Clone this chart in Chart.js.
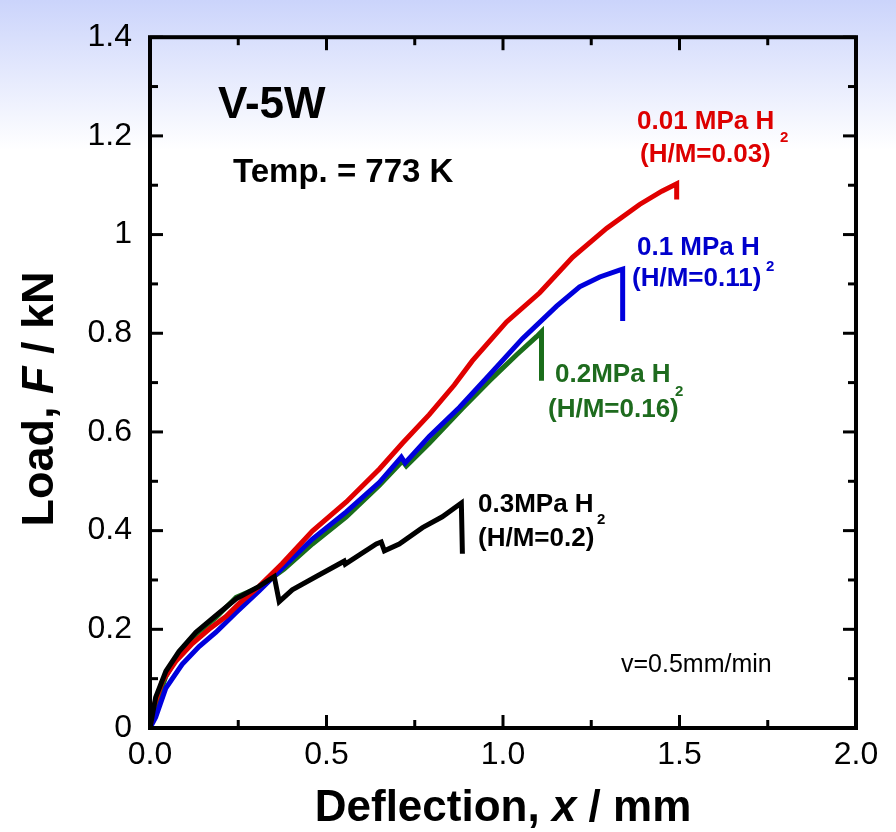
<!DOCTYPE html>
<html>
<head>
<meta charset="utf-8">
<script src="https://cdn.jsdelivr.net/npm/chart.js@4.4.0/dist/chart.umd.min.js"></script>
<style>
  html, body { margin: 0; padding: 0; background: #fff; }
  canvas { display: block; }
</style>
</head>
<body>
<canvas id="myChart" width="896" height="832"></canvas>
<script>
// axis ticks
const xTickVals = [0, 0.5, 1.0, 1.5, 2.0];
const xTickLabels = ['0.0', '0.5', '1.0', '1.5', '2.0'];
const xMinor = [0.25, 0.75, 1.25, 1.75];
const yTickVals = [0, 0.2, 0.4, 0.6, 0.8, 1.0, 1.2, 1.4];
const yTickLabels = ['0', '0.2', '0.4', '0.6', '0.8', '1', '1.2', '1.4'];
const yMinor = [0.1, 0.3, 0.5, 0.7, 0.9, 1.1, 1.3];

// 0.01 MPa H2 (H/M=0.03)
const h001X = [0, 0.007, 0.035, 0.073, 0.12, 0.167, 0.215, 0.252, 0.309, 0.374, 0.46, 0.556, 0.65, 0.715, 0.791, 0.862, 0.913, 1.01, 1.104, 1.197, 1.294, 1.387, 1.45, 1.492, 1.492];
const h001Y = [0, 0.036, 0.095, 0.135, 0.171, 0.2, 0.226, 0.252, 0.287, 0.333, 0.399, 0.458, 0.525, 0.577, 0.635, 0.695, 0.744, 0.823, 0.882, 0.954, 1.013, 1.061, 1.088, 1.103, 1.071];

// 0.1 MPa H2 (H/M=0.11)
const h01X = [0, 0.016, 0.045, 0.091, 0.139, 0.187, 0.244, 0.309, 0.38, 0.46, 0.556, 0.65, 0.712, 0.723, 0.791, 0.877, 0.962, 1.055, 1.152, 1.217, 1.274, 1.33, 1.339, 1.339];
const h01Y = [0, 0.022, 0.081, 0.129, 0.165, 0.194, 0.234, 0.278, 0.328, 0.383, 0.438, 0.498, 0.549, 0.537, 0.591, 0.650, 0.716, 0.789, 0.855, 0.894, 0.914, 0.928, 0.930, 0.825];

// 0.2 MPa H2 (H/M=0.16)
const h02X = [0, 0.016, 0.045, 0.082, 0.13, 0.187, 0.244, 0.309, 0.38, 0.46, 0.556, 0.65, 0.715, 0.726, 0.791, 0.885, 0.962, 1.038, 1.095, 1.109, 1.109];
const h02Y = [0, 0.045, 0.105, 0.15, 0.19, 0.224, 0.265, 0.285, 0.322, 0.373, 0.428, 0.492, 0.541, 0.531, 0.577, 0.648, 0.704, 0.756, 0.793, 0.803, 0.704];

// 0.3 MPa H2 (H/M=0.2)
const h03X = [0, 0.016, 0.045, 0.082, 0.13, 0.187, 0.244, 0.309, 0.352, 0.366, 0.403, 0.471, 0.55, 0.553, 0.641, 0.655, 0.664, 0.706, 0.772, 0.828, 0.882, 0.885];
const h03Y = [0, 0.062, 0.115, 0.155, 0.194, 0.228, 0.262, 0.287, 0.307, 0.256, 0.28, 0.307, 0.338, 0.332, 0.373, 0.377, 0.359, 0.373, 0.406, 0.428, 0.456, 0.353];

const FONT = '"Liberation Sans", Arial, Helvetica, sans-serif';

function pts(xs, ys) {
    return xs.map((v, i) => ({ x: v, y: ys[i] }));
}

function curve(xs, ys, color, order) {
    return {
        data: pts(xs, ys),
        borderColor: color,
        backgroundColor: color,
        borderWidth: 5,
        pointRadius: 0,
        tension: 0,
        fill: false,
        order: order
    };
}

// background, boxed frame with inward ticks on all sides
const framePlugin = {
    id: 'frame',
    beforeDraw(chart) {
        const ctx = chart.ctx;
        const g = ctx.createLinearGradient(0, 0, 0, 150);
        g.addColorStop(0, '#cbd4fb');
        g.addColorStop(1, '#ffffff');
        ctx.save();
        ctx.fillStyle = g;
        ctx.fillRect(0, 0, chart.width, chart.height);
        ctx.restore();
    },
    afterDatasetsDraw(chart) {
        const ctx = chart.ctx;
        const a = chart.chartArea;
        const sx = chart.scales.x, sy = chart.scales.y;
        ctx.save();
        ctx.strokeStyle = '#000';
        ctx.lineWidth = 3;
        function seg(x1, y1, x2, y2) {
            ctx.beginPath();
            ctx.moveTo(x1, y1);
            ctx.lineTo(x2, y2);
            ctx.stroke();
        }
        function tickX(v, len) {
            const p = sx.getPixelForValue(v);
            seg(p, a.bottom, p, a.bottom - len);
            seg(p, a.top, p, a.top + len);
        }
        function tickY(v, len) {
            const p = sy.getPixelForValue(v);
            seg(a.left, p, a.left + len, p);
            seg(a.right, p, a.right - len, p);
        }
        xTickVals.forEach(v => tickX(v, 13));
        xMinor.forEach(v => tickX(v, 8));
        yTickVals.forEach(v => tickY(v, 13));
        yMinor.forEach(v => tickY(v, 8));
        ctx.lineWidth = 4;
        ctx.strokeRect(a.left, a.top, a.right - a.left, a.bottom - a.top);
        ctx.restore();
    },
    afterDraw(chart) {
        const ctx = chart.ctx;
        ctx.save();
        ctx.textBaseline = 'alphabetic';
        ctx.textAlign = 'left';

        function txt(s, x, y, font, color) {
            ctx.font = font;
            ctx.fillStyle = color;
            ctx.fillText(s, x, y);
        }
        // run of text pieces with their own fonts, centred on cx
        function runs(parts, cx, y) {
            let w = 0;
            parts.forEach(p => { ctx.font = p[1]; w += ctx.measureText(p[0]).width; });
            let x = cx - w / 2;
            parts.forEach(p => {
                ctx.font = p[1];
                ctx.fillStyle = '#000';
                ctx.fillText(p[0], x, y);
                x += ctx.measureText(p[0]).width;
            });
        }

        const B44 = 'bold 44px ' + FONT, I44 = 'italic bold 44px ' + FONT;
        runs([['Deflection, ', B44], ['x', I44], [' / mm', B44]], 503, 821);

        ctx.save();
        ctx.translate(53, 399);
        ctx.rotate(-Math.PI / 2);
        const B45 = 'bold 45px ' + FONT, I45 = 'italic bold 45px ' + FONT;
        runs([['Load, ', B45], ['F', I45], [' / kN', B45]], 0, 0);
        ctx.restore();

        txt('V-5W', 218, 118, 'bold 44px ' + FONT, '#000');
        txt('Temp. = 773 K', 233, 182, 'bold 33px ' + FONT, '#000');
        txt('v=0.5mm/min', 621, 672, '25px ' + FONT, '#000');

        const L = 'bold 26px ' + FONT, S = 'bold 15px ' + FONT;
        const red = '#dd0000', blue = '#0000cc', green = '#1e6b1e';
        txt('0.01 MPa H', 637, 129, L, red);
        txt('2', 780, 142, S, red);
        txt('(H/M=0.03)', 640, 162, L, red);

        txt('0.1 MPa H', 637, 255, L, blue);
        txt('2', 766, 271, S, blue);
        txt('(H/M=0.11)', 632, 286, L, blue);

        txt('0.2MPa H', 555, 382, L, green);
        txt('2', 675, 396, S, green);
        txt('(H/M=0.16)', 548, 417, L, green);

        txt('0.3MPa H', 478, 512, L, '#000');
        txt('2', 597, 524, S, '#000');
        txt('(H/M=0.2)', 478, 546, L, '#000');
        ctx.restore();
    }
};

const config = {
    type: 'line',
    data: {
        datasets: [
            curve(h03X, h03Y, '#000000', 0),
            curve(h001X, h001Y, '#e00000', 1),
            curve(h01X, h01Y, '#0000dd', 2),
            curve(h02X, h02Y, '#1a6e1a', 3)
        ]
    },
    options: {
        responsive: false,
        animation: false,
        layout: { padding: { left: 0, right: 40, top: 22, bottom: 0 } },
        plugins: {
            legend: { display: false },
            tooltip: { enabled: false }
        },
        scales: {
            x: {
                type: 'linear',
                min: 0,
                max: 2,
                afterFit: s => { s.height = 104; },
                afterBuildTicks: s => { s.ticks = xTickVals.map(v => ({ value: v })); },
                grid: { display: false, drawTicks: false },
                border: { display: false },
                ticks: {
                    color: '#000',
                    padding: 8,
                    maxRotation: 0,
                    font: { family: FONT, size: 32 },
                    callback: (v, i) => xTickLabels[i]
                }
            },
            y: {
                type: 'linear',
                min: 0,
                max: 1.4,
                afterFit: s => { s.width = 150; },
                afterBuildTicks: s => { s.ticks = yTickVals.map(v => ({ value: v })); },
                grid: { display: false, drawTicks: false },
                border: { display: false },
                ticks: {
                    color: '#000',
                    padding: 18,
                    font: { family: FONT, size: 32 },
                    callback: (v, i) => yTickLabels[i]
                }
            }
        }
    },
    plugins: [framePlugin]
};

const myChart = new Chart(document.getElementById('myChart'), config);
</script>
</body>
</html>
